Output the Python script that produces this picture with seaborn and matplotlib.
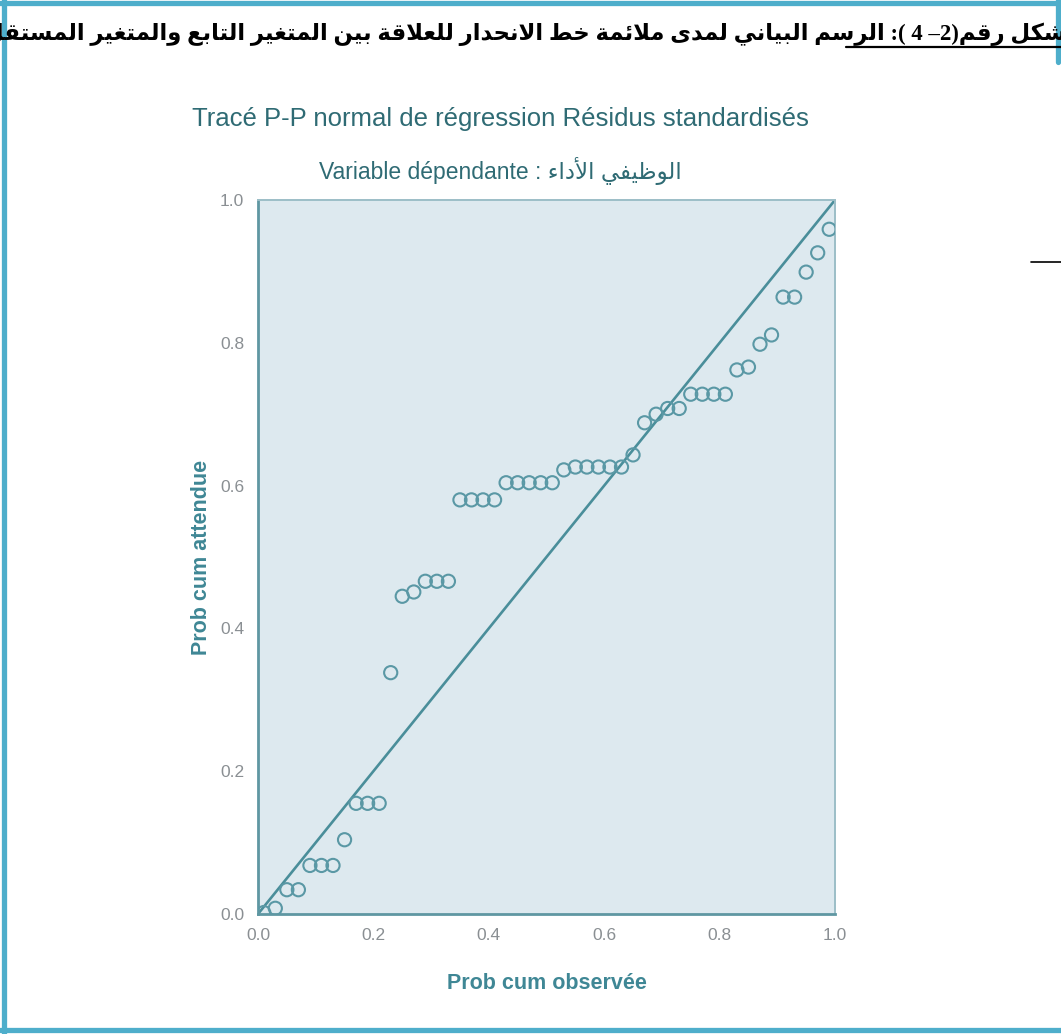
import re
import matplotlib
matplotlib.use("Agg")
import matplotlib.pyplot as plt
from matplotlib.lines import Line2D
import seaborn as sns
import pandas as pd

# Observed vs. expected cumulative probabilities of the standardized residuals
observed_cum = [0.01, 0.03, 0.05, 0.07, 0.09, 0.11, 0.13, 0.15, 0.17, 0.19,
                0.21, 0.23, 0.25, 0.27, 0.29, 0.31, 0.33, 0.35, 0.37, 0.39,
                0.41, 0.43, 0.45, 0.47, 0.49, 0.51, 0.53, 0.55, 0.57, 0.59,
                0.61, 0.63, 0.65, 0.67, 0.69, 0.71, 0.73, 0.75, 0.77, 0.79,
                0.81, 0.83, 0.85, 0.87, 0.89, 0.91, 0.93, 0.95, 0.97, 0.99]
expected_cum = [0.002, 0.008, 0.034, 0.034, 0.068, 0.068, 0.068, 0.104, 0.155, 0.155,
                0.155, 0.338, 0.445, 0.451, 0.466, 0.466, 0.466, 0.580, 0.580, 0.580,
                0.580, 0.604, 0.604, 0.604, 0.604, 0.604, 0.622, 0.626, 0.626, 0.626,
                0.626, 0.626, 0.643, 0.688, 0.700, 0.708, 0.708, 0.728, 0.728, 0.728,
                0.728, 0.762, 0.766, 0.798, 0.811, 0.864, 0.864, 0.899, 0.926, 0.959]
reference_line = [0.0, 1.0]
tick_values = [0.0, 0.2, 0.4, 0.6, 0.8, 1.0]
tick_labels = ["0.0", "0.2", "0.4", "0.6", "0.8", "1.0"]

caption = "شكل رقم(2– 4 ): الرسم البياني لمدى ملائمة خط الانحدار للعلاقة بين المتغير التابع والمتغير المستقل"
title = "Tracé P-P normal de régression Résidus standardisés"
subtitle_prefix = "Variable dépendante : "
dependent_label = "الأداء الوظيفي"
x_label = "Prob cum observée"
y_label = "Prob cum attendue"

# ---- minimal Arabic shaping (contextual presentation forms + visual order) ----
FORMS = {
    "\u0621": ("\uFE80", None, None, None),
    "\u0622": ("\uFE81", "\uFE82", None, None),
    "\u0623": ("\uFE83", "\uFE84", None, None),
    "\u0624": ("\uFE85", "\uFE86", None, None),
    "\u0625": ("\uFE87", "\uFE88", None, None),
    "\u0626": ("\uFE89", "\uFE8A", "\uFE8B", "\uFE8C"),
    "\u0627": ("\uFE8D", "\uFE8E", None, None),
    "\u0628": ("\uFE8F", "\uFE90", "\uFE91", "\uFE92"),
    "\u0629": ("\uFE93", "\uFE94", None, None),
    "\u062A": ("\uFE95", "\uFE96", "\uFE97", "\uFE98"),
    "\u062B": ("\uFE99", "\uFE9A", "\uFE9B", "\uFE9C"),
    "\u062C": ("\uFE9D", "\uFE9E", "\uFE9F", "\uFEA0"),
    "\u062D": ("\uFEA1", "\uFEA2", "\uFEA3", "\uFEA4"),
    "\u062E": ("\uFEA5", "\uFEA6", "\uFEA7", "\uFEA8"),
    "\u062F": ("\uFEA9", "\uFEAA", None, None),
    "\u0630": ("\uFEAB", "\uFEAC", None, None),
    "\u0631": ("\uFEAD", "\uFEAE", None, None),
    "\u0632": ("\uFEAF", "\uFEB0", None, None),
    "\u0633": ("\uFEB1", "\uFEB2", "\uFEB3", "\uFEB4"),
    "\u0634": ("\uFEB5", "\uFEB6", "\uFEB7", "\uFEB8"),
    "\u0635": ("\uFEB9", "\uFEBA", "\uFEBB", "\uFEBC"),
    "\u0636": ("\uFEBD", "\uFEBE", "\uFEBF", "\uFEC0"),
    "\u0637": ("\uFEC1", "\uFEC2", "\uFEC3", "\uFEC4"),
    "\u0638": ("\uFEC5", "\uFEC6", "\uFEC7", "\uFEC8"),
    "\u0639": ("\uFEC9", "\uFECA", "\uFECB", "\uFECC"),
    "\u063A": ("\uFECD", "\uFECE", "\uFECF", "\uFED0"),
    "\u0641": ("\uFED1", "\uFED2", "\uFED3", "\uFED4"),
    "\u0642": ("\uFED5", "\uFED6", "\uFED7", "\uFED8"),
    "\u0643": ("\uFED9", "\uFEDA", "\uFEDB", "\uFEDC"),
    "\u0644": ("\uFEDD", "\uFEDE", "\uFEDF", "\uFEE0"),
    "\u0645": ("\uFEE1", "\uFEE2", "\uFEE3", "\uFEE4"),
    "\u0646": ("\uFEE5", "\uFEE6", "\uFEE7", "\uFEE8"),
    "\u0647": ("\uFEE9", "\uFEEA", "\uFEEB", "\uFEEC"),
    "\u0648": ("\uFEED", "\uFEEE", None, None),
    "\u0649": ("\uFEEF", "\uFEF0", None, None),
    "\u064A": ("\uFEF1", "\uFEF2", "\uFEF3", "\uFEF4"),
}
LAM_ALEF = {"\u0622": ("\uFEF5", "\uFEF6"), "\u0623": ("\uFEF7", "\uFEF8"),
            "\u0625": ("\uFEF9", "\uFEFA"), "\u0627": ("\uFEFB", "\uFEFC")}
MIRROR = {"(": ")", ")": "("}


def shape_run(run):
    """Join one run of Arabic letters and return it in visual (right-to-left) order."""
    toks, i = [], 0
    while i < len(run):
        c = run[i]
        if c == "\u0644" and i + 1 < len(run) and run[i + 1] in LAM_ALEF:
            toks.append(LAM_ALEF[run[i + 1]] + (None, None))
            i += 2
        else:
            toks.append(FORMS[c])
            i += 1
    out = []
    for k, f in enumerate(toks):
        prev = toks[k - 1] if k > 0 else None
        nxt = toks[k + 1] if k + 1 < len(toks) else None
        jp = prev is not None and prev[2] is not None and f[1] is not None
        jn = nxt is not None and f[2] is not None and nxt[1] is not None
        out.append(f[3] if jp and jn else f[1] if jp else f[2] if jn else f[0])
    return "".join(reversed(out))


def rtl_visual(text):
    """Visual left-to-right string for a right-to-left paragraph."""
    parts = re.findall(r"[\u0621-\u064A]+|[0-9]+|.", text)
    vis = []
    for p in parts:
        if re.match(r"[\u0621-\u064A]", p):
            vis.append(shape_run(p))
        else:
            vis.append(MIRROR.get(p, p))
    return "".join(reversed(vis))


def shape_words(text):
    """Shape each Arabic word in place, keeping the words in left-to-right order."""
    return re.sub(r"[\u0621-\u064A]+", lambda m: shape_run(m.group(0)), text)


# ---- figure ----
W, H = 1061, 1034
sns.set_theme(style="white")
plt.rcParams["font.family"] = ["Liberation Sans", "DejaVu Sans"]
fig = plt.figure(figsize=(W / 100, H / 100), dpi=100)
fig.patch.set_facecolor("white")


def fx(px):
    return px / W


def fy(py):
    return 1 - py / H


# outer frame of the page block
frame_c = "#4eaecb"
for (x0, y0, x1, y1) in [(4, 0, 4, H), (0, 3, W, 3), (0, H - 4, W, H - 4), (W - 3, 0, W - 3, 62)]:
    fig.add_artist(Line2D([fx(x0), fx(x1)], [fy(y0), fy(y1)], color=frame_c, lw=3.8,
                          transform=fig.transFigure))

# caption line (right-to-left paragraph)
fig.text(fx(1066), fy(34), rtl_visual(caption), ha="right", va="center",
         fontsize=16.4, fontweight="bold", color="black",
         family=["Liberation Serif", "DejaVu Sans"])
fig.add_artist(Line2D([fx(846), fx(W)], [fy(47), fy(47)], color="black", lw=1.6,
                      transform=fig.transFigure))
fig.add_artist(Line2D([fx(1031), fx(W)], [fy(262), fy(262)], color="black", lw=1.2,
                      transform=fig.transFigure))

teal_dark = "#2f6b74"
teal = "#3f8795"
fig.text(fx(500), fy(119), title, ha="center", va="center", fontsize=18.5, color=teal_dark)
fig.text(fx(500), fy(171), subtitle_prefix + shape_words(dependent_label), ha="center",
         va="center", fontsize=16.5, color=teal_dark,
         family=["Liberation Sans", "DejaVu Sans"])

ax = fig.add_axes([fx(258), fy(914), (835 - 258) / W, (914 - 200) / H])
ax.set_facecolor("#dde9ef")

df = pd.DataFrame({"observed": observed_cum, "expected": expected_cum})
sns.lineplot(x=reference_line, y=reference_line, ax=ax, color="#4a8e9a", lw=1.9)
sns.scatterplot(data=df, x="observed", y="expected", ax=ax, marker="o", s=90,
                facecolor="none", edgecolor="#5a98a5", linewidth=1.5, zorder=3)

ax.set_xlim(0, 1)
ax.set_ylim(0, 1)
ax.set_xticks(tick_values)
ax.set_yticks(tick_values)
ax.set_xticklabels(tick_labels)
ax.set_yticklabels(tick_labels)
ax.tick_params(axis="both", direction="out", length=7, width=1.6, color="#5f97a2",
               labelcolor="#8a8f93", labelsize=12.5, pad=3)
for lab in ax.get_xticklabels() + ax.get_yticklabels():
    lab.set_family(["Liberation Sans Narrow", "Liberation Sans"])
for side in ["left", "bottom"]:
    ax.spines[side].set_color("#5f97a2")
    ax.spines[side].set_linewidth(2.0)
for side in ["top", "right"]:
    ax.spines[side].set_color("#9cbec7")
    ax.spines[side].set_linewidth(1.4)

ax.set_xlabel(x_label, fontsize=15.5, fontweight="bold", color=teal, labelpad=22)
ax.set_ylabel(y_label, fontsize=15.5, fontweight="bold", color=teal, labelpad=6)

fig.savefig("out.png", dpi=100, facecolor="white")
